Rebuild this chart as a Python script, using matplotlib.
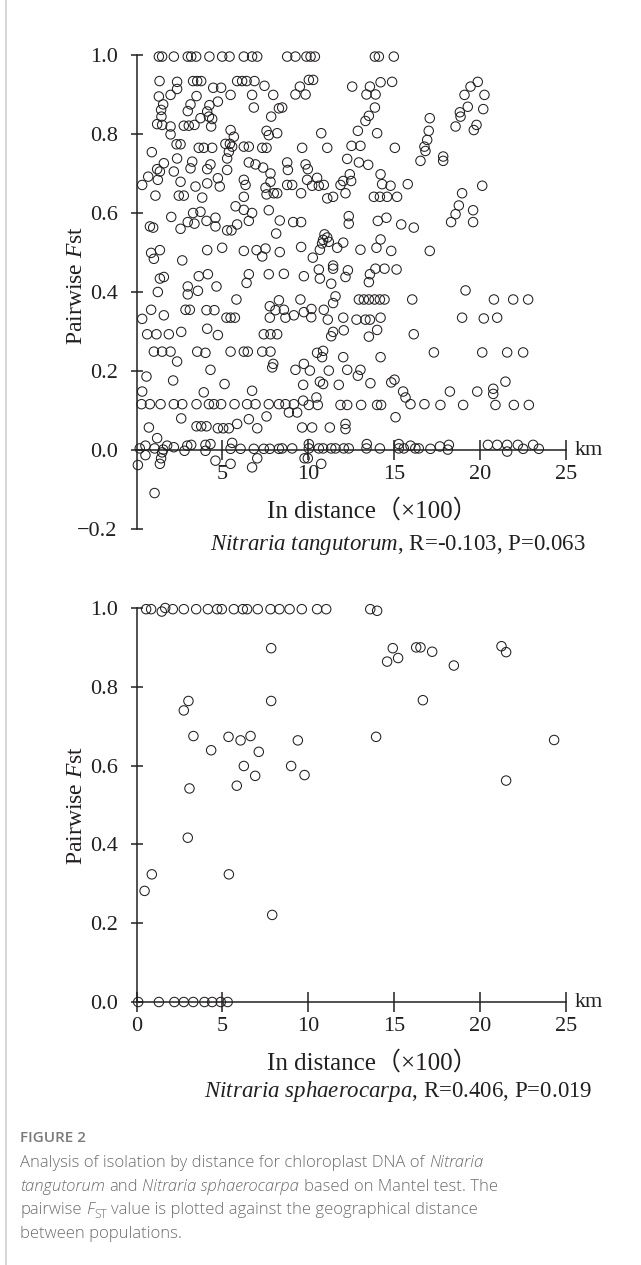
import matplotlib
matplotlib.use("Agg")
import matplotlib.pyplot as plt
from matplotlib.lines import Line2D

plt.rcParams['font.family'] = ['Liberation Serif', 'DejaVu Serif']
plt.rcParams['mathtext.fontset'] = 'custom'
plt.rcParams['mathtext.rm'] = 'Liberation Serif'
plt.rcParams['mathtext.it'] = 'Liberation Serif:italic'

"""
Data (distance x100 km, pairwise Fst), read off the figure
"""
tang_dist = [
    1.30, 1.49, 2.17, 2.98, 3.18, 3.47, 4.24, 4.98, 5.41, 6.24, 6.72, 7.02,
    1.34, 2.36, 3.29, 3.53, 3.76, 4.46, 4.92, 5.85, 6.14, 6.40, 6.86, 7.44,
    2.36, 1.98, 1.30, 3.49, 5.47, 6.72, 7.95, 1.55, 3.14, 4.24, 4.73,
    1.43, 2.98, 4.11, 6.82, 8.28, 1.45, 3.72, 4.21, 4.40, 7.83,
    1.20, 1.49, 1.98, 2.75, 3.04, 3.37, 4.34, 5.47, 7.56, 7.69, 8.18,
    1.98, 5.66, 2.33, 2.56, 3.62, 3.91, 4.40, 5.17, 5.43, 5.56, 6.24, 6.53, 7.31, 7.56,
    0.89, 5.37, 2.36, 5.27, 1.59, 1.20, 1.36, 3.24, 3.14, 4.30, 4.11, 6.53, 6.92, 7.36, 7.79,
    0.68, 1.24, 2.17, 5.27, 2.56, 4.73, 4.11, 4.84, 3.43, 6.24, 6.34, 7.79, 0.33, 7.50,
    1.10, 2.46, 2.75, 3.82, 6.24, 7.56, 7.98, 8.18,
    8.76, 9.24, 9.88, 10.12, 10.37, 13.86, 14.09, 14.96,
    10.02, 10.27, 9.50, 9.24, 9.83, 12.54, 13.57, 14.19, 14.86, 13.37, 13.90,
    8.47, 13.86, 13.51, 13.31, 17.05, 10.74, 12.87, 13.99, 16.99, 16.90,
    9.63, 11.09, 12.50, 13.02, 15.02, 16.74, 16.80, 16.51,
    8.76, 8.80, 9.83, 9.96, 12.25, 12.93, 13.47, 14.19, 12.40,
    9.92, 10.50, 8.76, 9.05, 10.21, 10.60, 10.89, 11.86, 12.02, 12.48, 14.28, 14.77, 15.77,
    9.57, 11.09, 11.43, 12.15, 13.80, 14.15, 14.57, 15.15,
    19.84, 19.42, 19.07, 20.23, 19.26, 20.16, 18.80, 18.84, 18.55, 19.77, 19.61, 17.83, 17.83, 20.10, 18.93,
    0.78, 0.97, 2.02, 3.29, 3.72, 2.98, 3.37, 2.56, 4.07, 4.59, 4.59, 5.27, 5.52, 5.85, 5.76, 6.24, 6.72, 6.53, 7.69, 8.12, 8.33,
    0.85, 1.36, 1.01, 2.66, 4.11, 4.98, 6.24, 6.98, 7.50, 7.31, 8.33,
    1.36, 1.59, 2.98, 2.98, 3.62, 4.15, 3.57, 4.65, 6.53, 6.40, 7.69, 1.24, 5.81,
    0.85, 1.59, 0.33, 2.85, 3.10, 4.07, 4.53, 5.23, 5.47, 5.72, 7.75, 8.08, 8.28, 7.75,
    0.62, 1.16, 1.88, 2.60, 4.11, 4.73, 7.40, 7.79, 8.18,
    9.11, 9.57, 12.34, 12.34, 14.03, 14.53, 15.39, 16.12,
    10.93, 11.09, 10.85, 10.79, 11.18, 12.02, 11.67, 10.66, 10.25, 13.02, 13.95, 14.19, 14.81, 9.57, 17.05,
    8.57, 9.73, 10.60, 10.66, 11.43, 11.43, 11.32, 12.29, 12.15, 13.57, 13.51, 13.89, 14.42, 15.12,
    9.53, 11.57, 11.43, 12.93, 13.22, 13.51, 13.84, 14.15, 14.42, 16.03,
    8.57, 8.66, 9.15, 9.73, 10.17, 10.16, 10.89, 11.12, 12.02, 12.79, 13.31, 13.57, 14.19,
    12.05, 11.43, 11.32, 13.51, 13.99, 16.12,
    18.74, 18.55, 18.29, 19.57, 19.57, 19.13, 20.78, 21.90, 22.77, 18.93, 20.19, 20.97,
    1.01, 1.49, 1.98, 3.53, 4.01, 5.47, 6.24, 6.47, 7.31, 7.79,
    2.36, 7.95, 7.89, 0.58, 2.13, 4.30, 5.12, 0.33, 3.91, 6.72,
    0.29, 0.78, 1.40, 2.17, 2.66, 3.49, 4.21, 4.50, 4.92, 5.70, 6.43, 6.92, 7.69, 8.28,
    2.60, 0.72, 3.49, 3.76, 4.07, 4.73, 5.04, 5.37, 5.85, 6.53, 7.02, 7.56, 1.20,
    0.19, 0.52, 1.05, 1.55, 1.78, 2.17, 2.79, 2.95, 3.18, 4.01, 4.01, 4.30, 5.56, 5.47, 6.05, 6.82, 7.40, 7.75, 8.28,
    0.52, 1.49, 1.43, 1.36, 0.08, 4.59, 5.47, 7.02, 6.72, 1.05,
    10.50, 10.79, 10.85, 12.02, 14.19, 9.24, 9.73, 10.08, 11.18, 12.25, 13.02, 12.87,
    9.69, 10.66, 10.85, 11.76, 13.60, 14.81, 15.00, 15.50, 15.64, 15.93, 16.74,
    8.66, 9.15, 8.86, 9.34, 9.69, 10.02, 10.46, 10.54, 11.86, 12.25, 13.06, 13.99, 14.22, 15.06,
    9.63, 10.21, 11.24, 12.15, 12.15,
    8.47, 9.05, 10.02, 10.60, 10.85, 11.32, 11.57, 12.05, 12.34, 13.37, 14.15, 15.25, 15.54, 16.21, 16.41,
    10.02, 13.39, 15.25, 15.93, 9.77, 9.96, 10.74,
    17.29, 20.10, 21.55, 22.48, 21.45, 18.22, 19.81, 20.74, 20.74,
    17.67, 18.99, 20.87, 21.94, 22.81,
    17.09, 17.64, 18.16, 18.10, 20.43, 20.97, 21.55, 21.55, 22.17, 22.48, 23.06, 23.39,
]
tang_fst = [
    0.996, 0.996, 0.996, 0.996, 0.996, 0.996, 0.996, 0.996, 0.996, 0.996, 0.996, 0.996,
    0.934, 0.932, 0.934, 0.934, 0.934, 0.917, 0.917, 0.934, 0.934, 0.934, 0.934, 0.922,
    0.914, 0.899, 0.895, 0.896, 0.899, 0.899, 0.899, 0.875, 0.875, 0.873, 0.882,
    0.861, 0.858, 0.857, 0.867, 0.865, 0.844, 0.840, 0.844, 0.838, 0.844,
    0.825, 0.823, 0.819, 0.821, 0.821, 0.823, 0.819, 0.810, 0.808, 0.797, 0.802,
    0.799, 0.793, 0.774, 0.774, 0.765, 0.765, 0.765, 0.775, 0.775, 0.768, 0.768, 0.768, 0.765, 0.765,
    0.754, 0.755, 0.738, 0.738, 0.726, 0.711, 0.705, 0.730, 0.713, 0.723, 0.711, 0.728, 0.723, 0.715, 0.700,
    0.692, 0.684, 0.705, 0.709, 0.679, 0.688, 0.675, 0.667, 0.667, 0.684, 0.671, 0.679, 0.671, 0.664,
    0.644, 0.644, 0.644, 0.639, 0.641, 0.647, 0.650, 0.650,
    0.996, 0.996, 0.996, 0.996, 0.996, 0.996, 0.996, 0.996,
    0.937, 0.937, 0.920, 0.900, 0.900, 0.920, 0.920, 0.931, 0.932, 0.900, 0.900,
    0.867, 0.867, 0.846, 0.833, 0.840, 0.802, 0.808, 0.802, 0.808, 0.785,
    0.765, 0.765, 0.770, 0.770, 0.765, 0.768, 0.757, 0.732,
    0.728, 0.709, 0.723, 0.711, 0.737, 0.728, 0.722, 0.698, 0.698,
    0.684, 0.689, 0.671, 0.671, 0.669, 0.669, 0.671, 0.671, 0.681, 0.681, 0.673, 0.669, 0.673,
    0.650, 0.637, 0.641, 0.650, 0.641, 0.641, 0.641, 0.641,
    0.932, 0.920, 0.899, 0.899, 0.869, 0.863, 0.855, 0.844, 0.819, 0.823, 0.810, 0.743, 0.732, 0.669, 0.650,
    0.566, 0.563, 0.590, 0.600, 0.603, 0.577, 0.573, 0.560, 0.580, 0.588, 0.566, 0.556, 0.556, 0.571, 0.617, 0.608, 0.600, 0.580, 0.607, 0.548, 0.581,
    0.499, 0.506, 0.484, 0.480, 0.506, 0.512, 0.504, 0.506, 0.510, 0.490, 0.501,
    0.434, 0.438, 0.414, 0.394, 0.440, 0.445, 0.403, 0.414, 0.445, 0.423, 0.445, 0.400, 0.381,
    0.355, 0.341, 0.332, 0.355, 0.355, 0.354, 0.354, 0.335, 0.335, 0.335, 0.364, 0.354, 0.379, 0.335,
    0.293, 0.293, 0.293, 0.299, 0.307, 0.291, 0.293, 0.293, 0.293,
    0.577, 0.577, 0.592, 0.573, 0.580, 0.588, 0.571, 0.563,
    0.546, 0.538, 0.532, 0.523, 0.527, 0.525, 0.512, 0.507, 0.487, 0.507, 0.512, 0.533, 0.504, 0.514, 0.504,
    0.446, 0.440, 0.457, 0.434, 0.467, 0.459, 0.421, 0.455, 0.438, 0.445, 0.425, 0.459, 0.459, 0.457,
    0.381, 0.389, 0.372, 0.381, 0.381, 0.381, 0.381, 0.381, 0.381, 0.381,
    0.355, 0.335, 0.341, 0.349, 0.357, 0.336, 0.355, 0.330, 0.335, 0.330, 0.330, 0.330, 0.335,
    0.303, 0.299, 0.288, 0.287, 0.304, 0.293,
    0.619, 0.597, 0.577, 0.607, 0.577, 0.404, 0.381, 0.381, 0.381, 0.335, 0.333, 0.335,
    0.249, 0.249, 0.249, 0.249, 0.246, 0.249, 0.249, 0.249, 0.249, 0.249,
    0.224, 0.218, 0.209, 0.186, 0.176, 0.203, 0.167, 0.148, 0.146, 0.150,
    0.116, 0.116, 0.116, 0.116, 0.116, 0.116, 0.116, 0.116, 0.116, 0.116, 0.116, 0.116, 0.116, 0.116,
    0.080, 0.057, 0.060, 0.060, 0.060, 0.055, 0.055, 0.055, 0.066, 0.078, 0.055, 0.085, 0.030,
    0.004, 0.011, 0.004, 0.001, 0.011, 0.007, -0.002, 0.011, 0.013, -0.002, 0.013, 0.015, 0.018, 0.003, 0.003, 0.003, 0.003, 0.003, 0.003,
    -0.013, -0.006, -0.021, -0.035, -0.038, -0.027, -0.035, -0.021, -0.044, -0.109,
    0.246, 0.235, 0.251, 0.235, 0.235, 0.203, 0.218, 0.201, 0.201, 0.203, 0.203, 0.188,
    0.165, 0.173, 0.167, 0.165, 0.169, 0.171, 0.178, 0.148, 0.133, 0.116, 0.116,
    0.116, 0.116, 0.095, 0.095, 0.125, 0.114, 0.133, 0.114, 0.114, 0.114, 0.114, 0.114, 0.114, 0.083,
    0.057, 0.057, 0.057, 0.066, 0.053,
    0.004, 0.004, 0.004, 0.004, 0.004, 0.004, 0.004, 0.004, 0.004, 0.004, 0.004, 0.004, 0.004, 0.004, 0.004,
    0.015, 0.015, 0.015, 0.011, -0.021, -0.021, -0.035,
    0.247, 0.247, 0.247, 0.247, 0.173, 0.148, 0.148, 0.155, 0.142,
    0.114, 0.114, 0.114, 0.114, 0.114,
    0.003, 0.009, 0.013, 0.001, 0.013, 0.013, 0.013, -0.004, 0.013, 0.003, 0.013, 0.003,
]

sphaer_dist = [
    0.56, 0.85, 1.47, 1.67, 2.11, 2.75, 3.47, 4.15, 4.69, 4.96, 5.66, 6.18, 6.43, 7.05,
    7.79, 8.31, 8.90, 9.61, 10.50, 11.03, 13.59, 13.99,
    7.83, 3.02, 2.75, 7.83, 3.31, 5.35, 6.05, 6.63, 9.38, 4.34, 7.11, 6.24, 8.99,
    6.90, 9.77, 3.08, 5.83, 2.98, 0.89, 5.37, 0.47, 7.89,
    14.90, 14.57, 15.21, 16.26, 16.51, 17.19, 18.45, 21.22, 21.49, 16.65, 13.93, 24.28, 21.49,
    0.10, 1.30, 2.20, 2.75, 3.30, 3.95, 4.40, 4.90, 5.30,
]
sphaer_fst = [
    0.997, 0.997, 0.991, 1.000, 0.997, 0.997, 0.997, 0.997, 0.997, 0.997, 0.997, 0.997, 0.997, 0.997,
    0.997, 0.997, 0.997, 0.997, 0.997, 0.997, 0.997, 0.993,
    0.898, 0.764, 0.740, 0.764, 0.675, 0.673, 0.664, 0.675, 0.664, 0.639, 0.635, 0.599, 0.599,
    0.574, 0.576, 0.542, 0.549, 0.417, 0.324, 0.324, 0.282, 0.221,
    0.898, 0.864, 0.873, 0.900, 0.900, 0.889, 0.854, 0.903, 0.888, 0.766, 0.673, 0.665, 0.562,
    0.0, 0.0, 0.0, 0.0, 0.0, 0.0, 0.0, 0.0, 0.0,
]

W, H = 641, 1265
INK = '#231f20'
X0, SX = 136.5, 17.2          # pixel of x=0 and px per unit


def box(x0, x1, ytop, ybot):
    return [x0 / W, 1 - ybot / H, (x1 - x0) / W, (ybot - ytop) / H]


def ftext(x, y, s, **kw):
    return fig.text(x / W, 1 - y / H, s, **kw)


def style_axes(ax, yticks, xticks, ybounds):
    for side in ['top', 'right']:
        ax.spines[side].set_visible(False)
    ax.spines['left'].set_position(('data', 0))
    ax.spines['bottom'].set_position(('data', 0))
    ax.spines['left'].set_bounds(*ybounds)
    ax.spines['bottom'].set_bounds(0, 25)
    for side in ['left', 'bottom']:
        ax.spines[side].set_linewidth(1.1)
        ax.spines[side].set_color(INK)
    ax.set_yticks(yticks)
    ax.set_yticklabels([("%.1f" % v).replace('-', '\u2212') for v in yticks])
    ax.set_xticks(xticks)
    ax.set_xticklabels(["%d" % v for v in xticks])
    ax.tick_params(axis='y', direction='inout', length=9, width=1.1, color=INK,
                   labelsize=16, pad=9, labelcolor=INK)
    ax.tick_params(axis='x', direction='inout', length=14, width=1.1, color=INK,
                   labelsize=16, pad=4, labelcolor=INK)
    ax.text(25.5, 0, "km", fontsize=16, color=INK, va='center', ha='left')


fig = plt.figure(figsize=(W / 100, H / 100), dpi=100)

# top panel
Y0, SY = 450, 395
ax1 = fig.add_axes(box(X0 - SX, X0 + 26.5 * SX, Y0 - 1.05 * SY, Y0 + 0.25 * SY))
ax1.set_xlim(-1, 26.5)
ax1.set_ylim(-0.25, 1.05)
ax1.patch.set_alpha(0)
ax1.scatter(tang_dist, tang_fst, s=46, facecolors='none', edgecolors=INK,
            linewidths=0.75, clip_on=False, zorder=3)
style_axes(ax1, [-0.2, 0.0, 0.2, 0.4, 0.6, 0.8, 1.0], [5, 10, 15, 20, 25], (-0.2, 1.0))

# bottom panel
Y0b, SYb = 1002, 394
ax2 = fig.add_axes(box(X0 - SX, X0 + 26.5 * SX, Y0b - 1.05 * SYb, Y0b + 0.05 * SYb))
ax2.set_xlim(-1, 26.5)
ax2.set_ylim(-0.05, 1.05)
ax2.patch.set_alpha(0)
ax2.scatter(sphaer_dist, sphaer_fst, s=46, facecolors='none', edgecolors=INK,
            linewidths=0.75, clip_on=False, zorder=3)
style_axes(ax2, [0.0, 0.2, 0.4, 0.6, 0.8, 1.0], [0, 5, 10, 15, 20, 25], (0, 1.0))

# labels
for yc in [285, 805]:
    ftext(77, yc, r"Pairwise $\mathit{F}$st", fontsize=17, rotation=90,
          ha='center', va='center', color=INK)
xl_fam = ['Liberation Serif', 'Noto Sans CJK SC']
ftext(372, 511, "In distance\uff08\u00d7100\uff09", fontsize=18, ha='center', va='center',
      color=INK, family=xl_fam)
ftext(372, 1063, "In distance\uff08\u00d7100\uff09", fontsize=18, ha='center', va='center',
      color=INK, family=xl_fam)
ftext(398, 545, r"$\mathit{Nitraria\ tangutorum}$, R=-0.103, P=0.063", fontsize=16.5,
      ha='center', va='center', color=INK)
ftext(398, 1092, r"$\mathit{Nitraria\ sphaerocarpa}$, R=0.406, P=0.019", fontsize=16.5,
      ha='center', va='center', color=INK)

# figure caption
fig.add_artist(Line2D([6 / W, 6 / W], [0, 1], color='#d0d0d0', lw=1.2))
CAP = '#6d6d6d'
ftext(20, 1138, "FIGURE 2", fontsize=11, family='Open Sans', fontweight='semibold',
      color='#7a7a7a', va='center')

renderer = fig.canvas.get_renderer()


def width_of(s, **kw):
    t = fig.text(0, 0, s, **kw)
    w = t.get_window_extent(renderer=renderer).width
    t.remove()
    return w


def caption_line(x, ybase, parts, size=12):
    base = dict(fontsize=size, family='Open Sans', fontweight='light', color=CAP)
    space = width_of("a a", **base) - width_of("aa", **base)
    for txt, kind, gap in parts:
        if gap:
            x += space
        kw = dict(base)
        dy = 0
        if kind == 'i':
            kw['style'] = 'italic'
        elif kind == 'sub':
            kw['fontsize'] = size * 0.72
            dy = 4
        t = ftext(x, ybase + dy, txt, va='baseline', **kw)
        x += t.get_window_extent(renderer=renderer).width


caption_line(20, 1167, [("Analysis of isolation by distance for chloroplast DNA of", 'n', False),
                        ("Nitraria", 'i', True)])
caption_line(20, 1191, [("tangutorum", 'i', False), ("and", 'n', True),
                        ("Nitraria sphaerocarpa", 'i', True),
                        ("based on Mantel test. The", 'n', True)])
caption_line(20, 1214, [("pairwise", 'n', False), ("F", 'i', True), ("ST", 'sub', False),
                        ("value is plotted against the geographical distance", 'n', True)])
caption_line(20, 1238, [("between populations.", 'n', False)])

fig.savefig("out.png", dpi=100)
